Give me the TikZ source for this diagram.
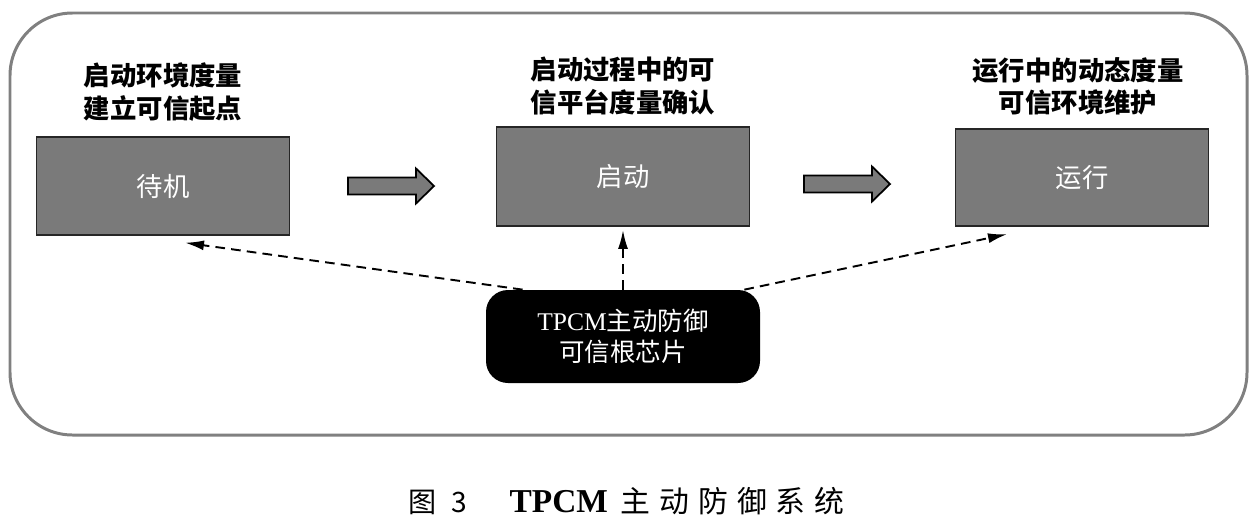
\documentclass[tikz,border=0pt]{standalone}
\usepackage{fontspec}
\setmainfont{Liberation Serif}
\newfontfamily\cjk{Noto Sans CJK SC}
\newfontfamily\cjkcap{Noto Sans CJK SC}[LetterSpace=30]
\usetikzlibrary{positioning,arrows.meta}
\definecolor{boxgray}{RGB}{122,122,122}
\definecolor{framegray}{RGB}{128,128,128}

\begin{document}
\begin{tikzpicture}[
            state/.style={draw=black!85, line width=1.1pt, fill=boxgray, minimum width=5.06cm, minimum height=1.95cm,
                text=white, font=\cjk\fontsize{15}{18}\selectfont},
            note/.style={align=center, inner sep=0pt, font=\cjk\bfseries\fontsize{15}{18.5}\selectfont},
            chip/.style={fill=black, rounded corners=0.44cm, minimum width=5.48cm, minimum height=1.86cm,
                text=white, align=center, font=\cjk\fontsize{14.5}{18}\selectfont},
            link/.style={line width=1.1pt, dash pattern=on 5.5pt off 3.5pt, -{Latex[length=3.8mm,width=2mm]}},
            blockarrow/.pic={
                \draw[line width=1pt, fill=boxgray] (0,-0.17) -- (1.36,-0.17) -- (1.36,-0.35) -- (1.72,0)
                    -- (1.36,0.35) -- (1.36,0.17) -- (0,0.17) -- cycle;
            }
        ]
            \useasboundingbox (0,0) rectangle (25.16,-10.5);
            \draw[framegray, line width=1.7pt, rounded corners=1.25cm] (0.2,-0.26) rectangle (24.94,-8.7);

            \node[state] (standby) at (3.26,-3.72) {待机};
            \node[state, minimum height=1.98cm] (boot) at (12.46,-3.53) {启动};
            \node[state] (run) at (21.64,-3.55) {运行};

            \node[note, above=0.3cm of standby] (standbynote) {启动环境度量\\建立可信起点};
            \node[note, above=0.22cm of boot] (bootnote) {启动过程中的可\\信平台度量确认};
            \node[note, above=0.24cm of run, xshift=-0.08cm] (runnote) {运行中的动态度量\\可信环境维护};

            \pic at (6.96,-3.72) {blockarrow};
            \pic at (16.08,-3.68) {blockarrow};

            \node[chip] (tpcm) at (12.46,-6.73) {{\rmfamily TPCM}主动防御\\可信根芯片};

            \draw[link] ([xshift=0.74cm]tpcm.north west) -- ([xshift=0.44cm, yshift=-0.14cm]standby.south);
            \draw[link] (tpcm.north) -- ([yshift=-0.06cm]boot.south);
            \draw[link] ([xshift=-0.32cm]tpcm.north east) -- ([xshift=-1.5cm, yshift=-0.14cm]run.south);

            \node[anchor=west, inner sep=0pt, font=\cjk\fontsize{16}{18}\selectfont] (caption) at (8.16,-10.03)
                {图\hspace{0.55em}3\hspace{1.5em}{\rmfamily\bfseries\fontsize{19}{20}\selectfont TPCM}\hspace{0.45em}{\cjkcap\fontsize{17}{20}\selectfont 主动防御系统}};
        \end{tikzpicture}
\end{document}
